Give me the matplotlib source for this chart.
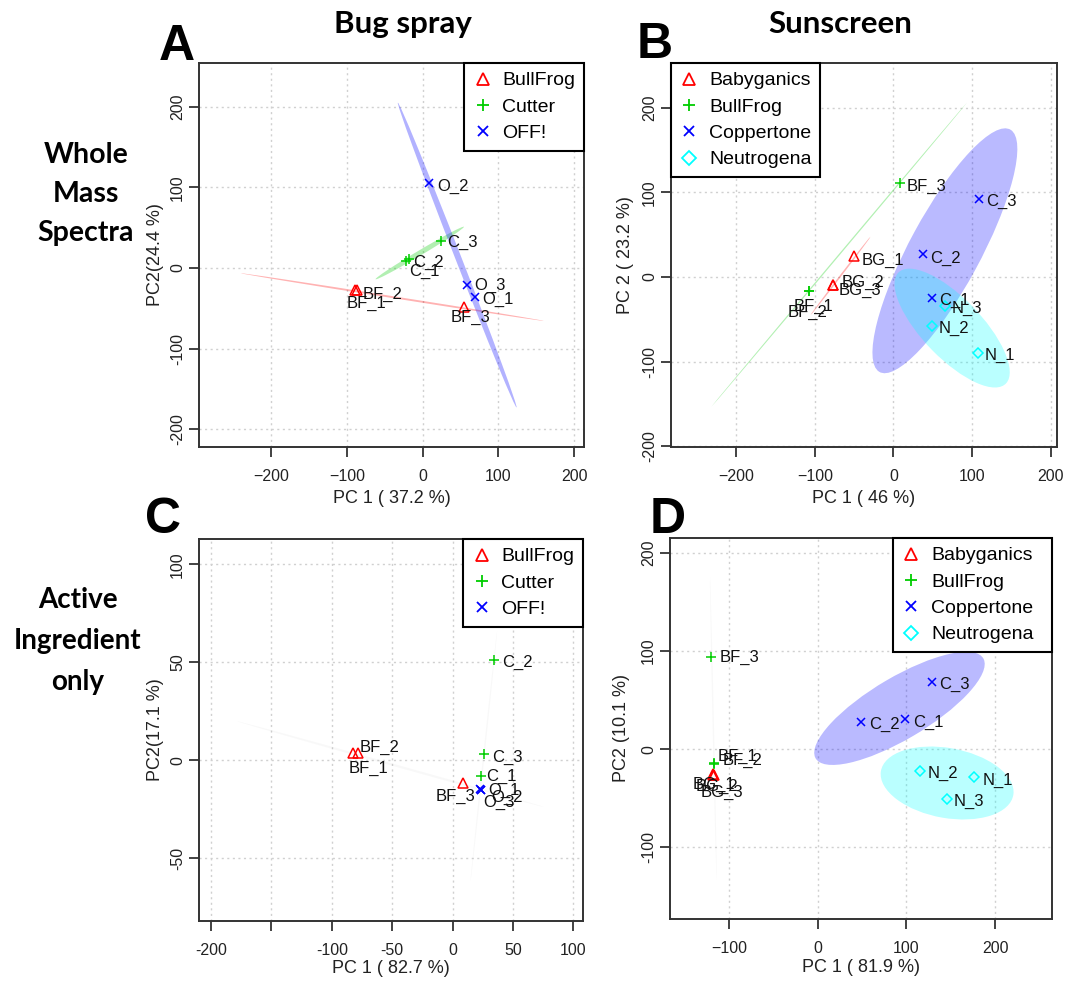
import numpy as np
import matplotlib
matplotlib.use("Agg")
import matplotlib.pyplot as plt
from matplotlib.patches import Ellipse

# ---------------- DATA ----------------
# Panel A: bug spray, whole mass spectra
a_bullfrog_x = [-89, -87, 54.6]
a_bullfrog_y = [-27, -28, -48.7]
a_bullfrog_lab = ["BF_1", "BF_2", "BF_3"]
a_cutter_x = [-22, -18, 23.8]
a_cutter_y = [8, 10.7, 33.5]
a_cutter_lab = ["C_1", "C_2", "C_3"]
a_off_x = [68.7, 8.8, 59]
a_off_y = [-36, 105, -21.5]
a_off_lab = ["O_1", "O_2", "O_3"]
# ellipses: major-axis end points (x1, y1, x2, y2) and semi-minor axis
a_ell_bullfrog = [-240, -6.6, 160, -65.7, 1.2]
a_ell_cutter = [-62, -14, 54.6, 51, 3.2]
a_ell_off = [-32.6, 204.8, 124, -173, 4.0]

# Panel B: sunscreen, whole mass spectra
b_babyganics_x = [-50.4, -77.5, -77.0]
b_babyganics_y = [24.9, -9.5, -10.0]
b_babyganics_lab = ["BG_1", "BG_2", "BG_3"]
b_bullfrog_x = [-107, -108, 8]
b_bullfrog_y = [-16.2, -16.5, 110.9]
b_bullfrog_lab = ["BF_1", "BF_2", "BF_3"]
b_coppertone_x = [49.6, 37.7, 108.5]
b_coppertone_y = [-25.2, 26.8, 92.3]
b_coppertone_lab = ["C_1", "C_2", "C_3"]
b_neutrogena_x = [107.6, 48.7, 65]
b_neutrogena_y = [-90.3, -57.6, -34]
b_neutrogena_lab = ["N_1", "N_2", "N_3"]
b_ell_babyganics = [-105.5, -45, -29.2, 47.7, 1.0]
b_ell_bullfrog = [-231.7, -153.5, 93.6, 206.3, 0.8]
b_ell_coppertone = [149.1, 174, -18.3, -112, 44.7]
b_ell_neutrogena = [143.5, -125.5, 5.7, 4.7, 36.4]

# Panel C: bug spray, active ingredient only
c_bullfrog_x = [-82.8, -78.4, 8.7]
c_bullfrog_y = [3.9, 3.6, -11.6]
c_bullfrog_lab = ["BF_1", "BF_2", "BF_3"]
c_cutter_x = [23.9, 34.1, 25.8]
c_cutter_y = [-8.2, 51.4, 3.1]
c_cutter_lab = ["C_1", "C_2", "C_3"]
c_off_x = [23, 23.5, 23.2]
c_off_y = [-14.6, -15.0, -15.2]
c_off_lab = ["O_1", "O_2", "O_3"]
c_ell_bullfrog = [-178.7, 20, 75.6, -23.8, 0.6]
c_ell_cutter = [36.9, 66.3, 14.8, -62, 0.6]

# Panel D: sunscreen, active ingredient only
d_babyganics_x = [-117.6, -117.2, -117.9]
d_babyganics_y = [-25.8, -26.2, -26.5]
d_babyganics_lab = ["BG_1", "BG_2", "BG_3"]
d_bullfrog_x = [-116.9, -116.5, -119.8]
d_bullfrog_y = [-14.6, -15.0, 93.5]
d_bullfrog_lab = ["BF_1", "BF_2", "BF_3"]
d_coppertone_x = [98, 49.2, 128.5]
d_coppertone_y = [30.6, 27.9, 68.7]
d_coppertone_lab = ["C_1", "C_2", "C_3"]
d_neutrogena_x = [176.3, 115.4, 145.4]
d_neutrogena_y = [-28.6, -22.1, -50.7]
d_neutrogena_lab = ["N_1", "N_2", "N_3"]
d_ell_bullfrog = [-121.4, 175.8, -113.9, -133.7, 0.8]
d_ell_coppertone = [187, 91.7, -2.8, -8.7, 32]
d_ell_neutrogena = [220.5, -46.2, 71.1, -22.8, 35.7]

# Text
col_titles = ["Bug spray", "Sunscreen"]
row_titles = ["Whole\nMass\nSpectra", "Active\nIngredient\nonly"]
panel_letters = ["A", "B", "C", "D"]
x_labels = ["PC 1 ( 37.2 %)", "PC 1 ( 46 %)", "PC 1 ( 82.7 %)", "PC 1 ( 81.9 %)"]
y_labels = ["PC2(24.4 %)", "PC 2 ( 23.2 %)", "PC2(17.1 %)", "PC2 (10.1 %)"]
a_xticks = [-200, -100, 0, 100, 200]
a_yticks = [-200, -100, 0, 100, 200]
b_xticks = [-200, -100, 0, 100, 200]
b_yticks = [-200, -100, 0, 100, 200]
c_xticks = [-200, -150, -100, -50, 0, 50, 100]
c_xticklabels = ["-200", "", "-100", "-50", "0", "50", "100"]
c_yticks = [-50, 0, 50, 100]
d_xticks = [-100, 0, 100, 200]
d_yticks = [-100, 0, 100, 200]

# ---------------- STYLE ----------------
RED, GREEN, BLUE, CYAN = "#ff0000", "#00cd00", "#0000ff", "#00ffff"
STY = {
    "BullFrog_bug": (RED, "^"),
    "Cutter": (GREEN, "+"),
    "OFF!": (BLUE, "x"),
    "Babyganics": (RED, "^"),
    "BullFrog_sun": (GREEN, "+"),
    "Coppertone": (BLUE, "x"),
    "Neutrogena": (CYAN, "D"),
}
MS = {"^": 7, "D": 5.5, "+": 7, "x": 5.5}
LMS = {"^": 8, "D": 7, "+": 9, "x": 7}

plt.rcParams["font.family"] = ["Liberation Sans", "DejaVu Sans"]
fig = plt.figure(figsize=(10.67, 9.84), dpi=100)
W, H = 1067, 984


def add_axes(l, r, t, b):
    return fig.add_axes([l / W, 1 - b / H, (r - l) / W, (b - t) / H])


def draw_ellipse(ax, e, color, alpha):
    x1, y1, x2, y2, minor = e
    cx, cy = (x1 + x2) / 2, (y1 + y2) / 2
    length = np.hypot(x2 - x1, y2 - y1)
    ang = np.degrees(np.arctan2(y2 - y1, x2 - x1))
    ax.add_patch(Ellipse((cx, cy), length, 2 * minor, angle=ang,
                         facecolor=color, edgecolor="none", alpha=alpha, zorder=1))


def draw_group(ax, x, y, labs, key, offs):
    color, mk = STY[key]
    if mk in ("^", "D"):
        ax.plot(x, y, ls="none", marker=mk, ms=MS[mk],
                mfc="none", mec=color, mew=1.1, zorder=3)
    else:
        ax.plot(x, y, ls="none", marker=mk, ms=MS[mk], color=color, mew=1.1, zorder=3)
    for xi, yi, lab, (dx, dy) in zip(x, y, labs, offs):
        ax.annotate(lab, (xi, yi), xytext=(dx, -dy), textcoords="offset pixels",
                    ha="left", va="center", fontsize=12, color="#111111", zorder=4)


def style_axes(ax, xlim, ylim, xt, yt, xlab, ylab, xtl=None):
    ax.set_xlim(xlim)
    ax.set_ylim(ylim)
    ax.set_xticks(xt)
    ax.set_yticks(yt)
    if xtl is not None:
        ax.set_xticklabels(xtl)
    ax.set_yticklabels([str(v) for v in yt], rotation=90, va="center")
    ax.grid(True, color="#d0d0d0", ls=(0, (1.5, 2.5)), lw=1.0)
    ax.set_axisbelow(True)
    ax.tick_params(direction="out", length=7, width=1.2, labelsize=11.5,
                   colors="#222222")
    ax.tick_params(axis="x", pad=9)
    ax.tick_params(axis="y", pad=3)
    for s in ax.spines.values():
        s.set_linewidth(1.4)
        s.set_color("#333333")
    ax.set_xlabel(xlab, fontsize=13, color="#222222")
    ax.set_ylabel(ylab, fontsize=13, color="#222222")


def legend(ax, names, keys, loc, expand_width=None):
    handles = []
    for n, k in zip(names, keys):
        color, mk = STY[k]
        if mk in ("^", "D"):
            h, = ax.plot([], [], ls="none", marker=mk, ms=LMS[mk],
                         mfc="none", mec=color, mew=1.3, label=n)
        else:
            h, = ax.plot([], [], ls="none", marker=mk, ms=LMS[mk], color=color,
                         mew=1.3, label=n)
        handles.append(h)
    kw = {}
    if expand_width is not None:
        kw = dict(bbox_to_anchor=(1 - expand_width, 0, expand_width, 1), mode="expand")
    lg = ax.legend(handles=handles, loc=loc, fontsize=14, fancybox=False,
                   edgecolor="black", framealpha=1, borderaxespad=0,
                   handlelength=1.0, handletextpad=0.5, borderpad=0.45,
                   labelspacing=0.45, numpoints=1, **kw)
    lg.get_frame().set_linewidth(1.5)
    lg.set_zorder(5)


# ---------- Panel A ----------
ax = add_axes(199, 584, 63, 447)
draw_ellipse(ax, a_ell_bullfrog, RED, 0.3)
draw_ellipse(ax, a_ell_cutter, GREEN, 0.3)
draw_ellipse(ax, a_ell_off, BLUE, 0.3)
draw_group(ax, a_bullfrog_x, a_bullfrog_y, a_bullfrog_lab, "BullFrog_bug",
           [(-8, 14), (6, 4), (-13, 10)])
draw_group(ax, a_cutter_x, a_cutter_y, a_cutter_lab, "Cutter",
           [(3, 10), (4, 3), (7, 2)])
draw_group(ax, a_off_x, a_off_y, a_off_lab, "OFF!",
           [(8, 2), (8, 3), (7, 0)])
style_axes(ax, (-295, 213), (-222, 254), a_xticks, a_yticks, x_labels[0], y_labels[0])
ax.xaxis.set_label_coords(0.5, -0.112)
ax.yaxis.set_label_coords(-0.09, 0.5)
legend(ax, ["BullFrog", "Cutter", "OFF!"], ["BullFrog_bug", "Cutter", "OFF!"], "upper right")

# ---------- Panel B ----------
ax = add_axes(671, 1057, 63, 447)
draw_ellipse(ax, b_ell_babyganics, RED, 0.3)
draw_ellipse(ax, b_ell_bullfrog, GREEN, 0.3)
draw_ellipse(ax, b_ell_coppertone, BLUE, 0.27)
draw_ellipse(ax, b_ell_neutrogena, CYAN, 0.27)
draw_group(ax, b_babyganics_x, b_babyganics_y, b_babyganics_lab, "Babyganics",
           [(8, 4), (9, -3), (6, 5)])
draw_group(ax, b_bullfrog_x, b_bullfrog_y, b_bullfrog_lab, "BullFrog_sun",
           [(-16, 16), (-21, 21), (7, 3)])
draw_group(ax, b_coppertone_x, b_coppertone_y, b_coppertone_lab, "Coppertone",
           [(7, 2), (7, 4), (7, 3)])
draw_group(ax, b_neutrogena_x, b_neutrogena_y, b_neutrogena_lab, "Neutrogena",
           [(7, 2), (7, 3), (7, 3)])
style_axes(ax, (-283, 208), (-201, 253), b_xticks, b_yticks, x_labels[1], y_labels[1])
ax.xaxis.set_label_coords(0.5, -0.112)
ax.yaxis.set_label_coords(-0.096, 0.5)
legend(ax, ["Babyganics", "BullFrog", "Coppertone", "Neutrogena"],
       ["Babyganics", "BullFrog_sun", "Coppertone", "Neutrogena"], "upper left")

# ---------- Panel C ----------
ax = add_axes(199, 583, 539, 921)
draw_ellipse(ax, c_ell_bullfrog, "#808080", 0.05)
draw_ellipse(ax, c_ell_cutter, "#808080", 0.05)
draw_group(ax, c_bullfrog_x, c_bullfrog_y, c_bullfrog_lab, "BullFrog_bug",
           [(-4, 16), (2, -6), (-27, 13)])
draw_group(ax, c_cutter_x, c_cutter_y, c_cutter_lab, "Cutter",
           [(5, 0), (8, 3), (8, 3)])
draw_group(ax, c_off_x, c_off_y, c_off_lab, "OFF!",
           [(8, 1), (10, 8), (3, 12)])
style_axes(ax, (-210, 108), (-82, 113), c_xticks, c_yticks, x_labels[2], y_labels[2],
           xtl=c_xticklabels)
ax.xaxis.set_label_coords(0.5, -0.102)
ax.yaxis.set_label_coords(-0.091, 0.5)
legend(ax, ["BullFrog", "Cutter", "OFF!"], ["BullFrog_bug", "Cutter", "OFF!"], "upper right")

# ---------- Panel D ----------
ax = add_axes(670, 1052, 538, 919)
draw_ellipse(ax, d_ell_bullfrog, "#808080", 0.05)
draw_ellipse(ax, d_ell_coppertone, BLUE, 0.27)
draw_ellipse(ax, d_ell_neutrogena, CYAN, 0.27)
draw_group(ax, d_babyganics_x, d_babyganics_y, d_babyganics_lab, "Babyganics",
           [(-21, 10), (-18, 12), (-12, 17)])
draw_group(ax, d_bullfrog_x, d_bullfrog_y, d_bullfrog_lab, "BullFrog_sun",
           [(4, -7), (8, -3), (8, 0)])
draw_group(ax, d_coppertone_x, d_coppertone_y, d_coppertone_lab, "Coppertone",
           [(8, 3), (8, 3), (7, 3)])
draw_group(ax, d_neutrogena_x, d_neutrogena_y, d_neutrogena_lab, "Neutrogena",
           [(8, 3), (7, 3), (7, 3)])
style_axes(ax, (-166.5, 264), (-173, 215), d_xticks, d_yticks, x_labels[3], y_labels[3])
ax.xaxis.set_label_coords(0.5, -0.105)
ax.yaxis.set_label_coords(-0.105, 0.5)
legend(ax, ["Babyganics", "BullFrog", "Coppertone", "Neutrogena"],
       ["Babyganics", "BullFrog_sun", "Coppertone", "Neutrogena"], "upper right",
       expand_width=159 / 382)

# ---------- Titles / letters ----------
title_font = ["Lato", "DejaVu Sans"]
fig.text(403 / W, 1 - 24 / H, col_titles[0], ha="center", va="center",
         fontsize=22.5, fontweight="bold", family=title_font)
fig.text(840 / W, 1 - 24 / H, col_titles[1], ha="center", va="center",
         fontsize=22.5, fontweight="bold", family=title_font)
fig.text(86 / W, 1 - 194 / H, row_titles[0], ha="center", va="center",
         fontsize=20.5, fontweight="bold", family=title_font, linespacing=1.6)
fig.text(78 / W, 1 - 641 / H, row_titles[1], ha="center", va="center",
         fontsize=20, fontweight="bold", family=title_font, linespacing=1.7)
for lt, (x, y) in zip(panel_letters, [(177, 47), (655, 45), (163, 520), (668, 520)]):
    fig.text(x / W, 1 - y / H, lt, ha="center", va="center", fontsize=36,
             fontweight="heavy", family=["Liberation Sans", "DejaVu Sans"])

fig.savefig("out.png", dpi=100)
